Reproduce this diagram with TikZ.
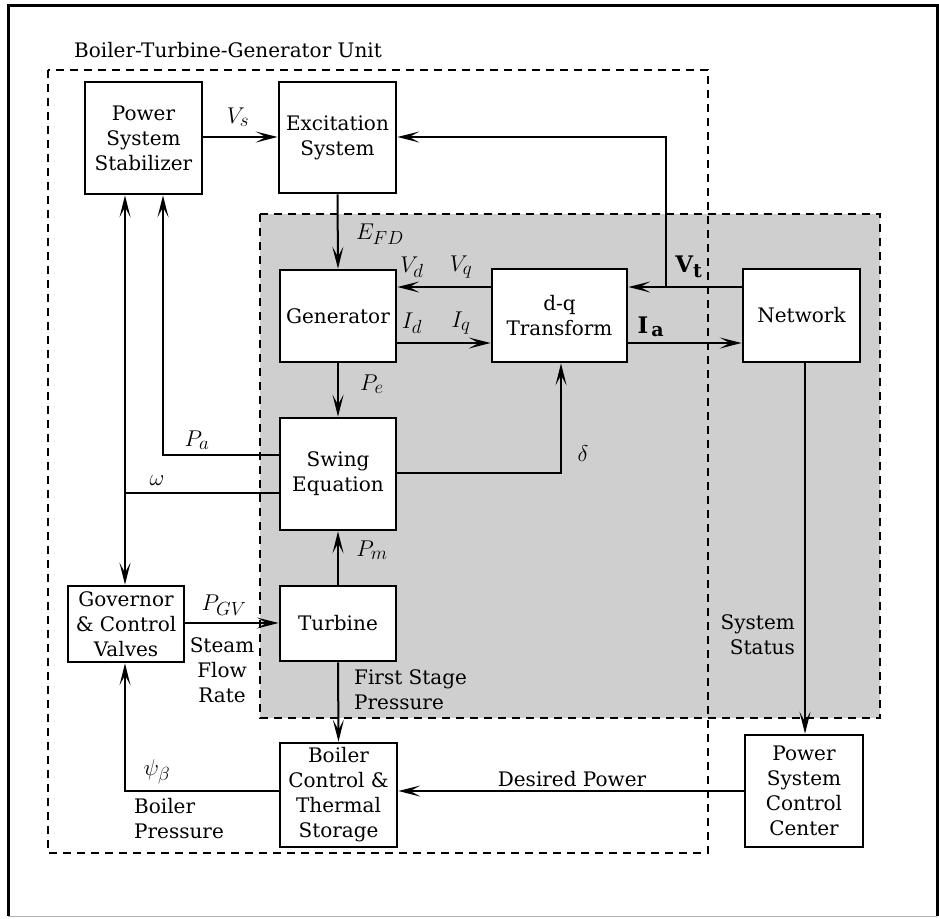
\documentclass[tikz,border=0pt]{standalone}
\usepackage{fontspec}
\setmainfont{DejaVu Serif}
\DeclareMathSizes{20.74}{20.74}{17.28}{14.4}
\usetikzlibrary{arrows.meta}
\begin{document}
\begin{tikzpicture}[x=1pt,y=-1pt,
  every node/.style={font=\fontsize{20}{25}\selectfont},
  mth/.style={font=\fontsize{20.74}{25}\selectfont, scale=1.1},
  blk/.style={draw, line width=2.6pt, fill=white, align=center, inner sep=0pt},
  arr/.style={line width=2pt, -{Stealth[length=22pt,width=11pt,inset=10pt]}},
  ln/.style={line width=2pt},
  dsh/.style={line width=2.2pt, dash pattern=on 8pt off 6pt},
  lbl/.style={inner sep=0pt, align=center}]
\useasboundingbox (0,0) rectangle (939,918);
% outer frame
\draw[line width=3pt] (8,916) -- (8,5) -- (937,5) -- (937,916);
\draw[line width=1pt, black!30] (8,916) -- (937,916);
% shaded region
\fill[black!19] (260,214) rectangle (880,718);
\draw[dsh] (260,214) rectangle (880,718);
% BTG unit box
\draw[dsh] (48,70) rectangle (708,853);
\node[lbl] (title) at (228,50) {Boiler-Turbine-Generator Unit};
% blocks
\node[blk, minimum width=117pt, minimum height=112pt] (pss) at (143.5,138) {Power\\System\\Stabilizer};
\node[blk, minimum width=117pt, minimum height=111pt] (exc) at (337.5,137.5) {Excitation\\System};
\node[blk, minimum width=116pt, minimum height=92pt] (gen) at (338,316) {Generator};
\node[blk, minimum width=135pt, minimum height=93pt] (dq) at (559.5,315.5) {d-q\\Transform};
\node[blk, minimum width=117pt, minimum height=93pt] (net) at (801.5,315.5) {Network};
\node[blk, minimum width=116pt, minimum height=112pt] (swing) at (338,474) {Swing\\Equation};
\node[blk, minimum width=116pt, minimum height=75pt] (tur) at (338,623.5) {Turbine};
\node[blk, minimum width=116pt, minimum height=76pt] (gov) at (126,624) {Governor\\\& Control\\Valves};
\node[blk, minimum width=117pt, minimum height=104pt] (boil) at (338.5,795) {Boiler\\Control \&\\Thermal\\Storage};
\node[blk, minimum width=118pt, minimum height=112pt] (pscc) at (804,791) {Power\\System\\Control\\Center};
% junctions
\coordinate (vt) at (666,287);
\coordinate (pa) at (163,455);
\coordinate (om) at (125,493);
\coordinate (de) at (561,473);
\coordinate (bp) at (125,791);
% connectors
\draw[arr] (pss.east |- 0,137) -- (exc.west |- 0,137);
\draw[arr] (net.west |- 0,287) -- (dq.east |- 0,287);
\draw[arr] (vt) -- (vt |- 0,137) -- (exc.east |- 0,137);
\draw[arr] (dq.west |- 0,287) -- (gen.east |- 0,287);
\draw[arr] (gen.east |- 0,343) -- (dq.west |- 0,343);
\draw[arr] (dq.east |- 0,343) -- (net.west |- 0,343);
\draw[arr] (exc.south) -- (gen.north);
\draw[arr] (gen.south) -- (swing.north);
\draw[arr] (swing.west |- pa) -- (pa) -- (pa |- pss.south);
\draw[ln] (swing.west |- om) -- (om);
\draw[arr] (om) -- (om |- pss.south);
\draw[arr] (om) -- (om |- gov.north);
\draw[arr] (swing.east |- de) -- (de) -- (de |- dq.south);
\draw[arr] (tur.north) -- (swing.south);
\draw[arr] (gov.east |- 0,623) -- (tur.west |- 0,623);
\draw[arr] (tur.south) -- (boil.north);
\draw[arr] (boil.west |- bp) -- (bp) -- (bp |- gov.south);
\draw[arr] (pscc.west |- 0,791) -- (boil.east |- 0,791);
\draw[arr] (net.south -| 805,0) -- (pscc.north -| 805,0);
% labels
\node[lbl, mth] (lvs) at (238,117) {$V_s$};
\node[lbl, mth] (lefd) at (380,234) {$E_{FD}$};
\node[lbl, mth] (lvd) at (412,267) {$V_d$};
\node[lbl, mth] (lvq) at (461,267) {$V_q$};
\node[lbl, mth] (lid) at (412,323) {$I_d$};
\node[lbl, mth] (liq) at (461,323) {$I_q$};
\node[lbl, mth] (lia) at (651,327) {$\mathbf{I}_{\,\mathbf{a}}$};
\node[lbl, mth] (lvt) at (689,267) {$\mathbf{V}_{\mathbf{t}}$};
\node[lbl, mth] (lpe) at (372,384) {$P_e$};
\node[lbl, mth] (lpa) at (197,440) {$P_a$};
\node[lbl, mth] (lom) at (157,481) {$\omega$};
\node[lbl, mth] (lde) at (583,454) {$\delta$};
\node[lbl, mth] (lpm) at (372,550) {$P_m$};
\node[lbl, mth] (lpgv) at (224,605) {$P_{GV}$};
\node[lbl] (lsfr) at (222,670) {Steam\\Flow\\Rate};
\node[lbl, anchor=west, align=left] (lfsp) at (354,690) {First Stage\\Pressure};
\node[lbl, mth] (lpsi) at (157,772) {$\psi_\beta$};
\node[lbl, anchor=west, align=left] (lbp) at (134,819) {Boiler\\Pressure};
\node[lbl] (ldp) at (572,779) {Desired Power};
\node[lbl, anchor=east, align=right] (lss) at (795,635) {System\\Status};
\end{tikzpicture}
\end{document}
